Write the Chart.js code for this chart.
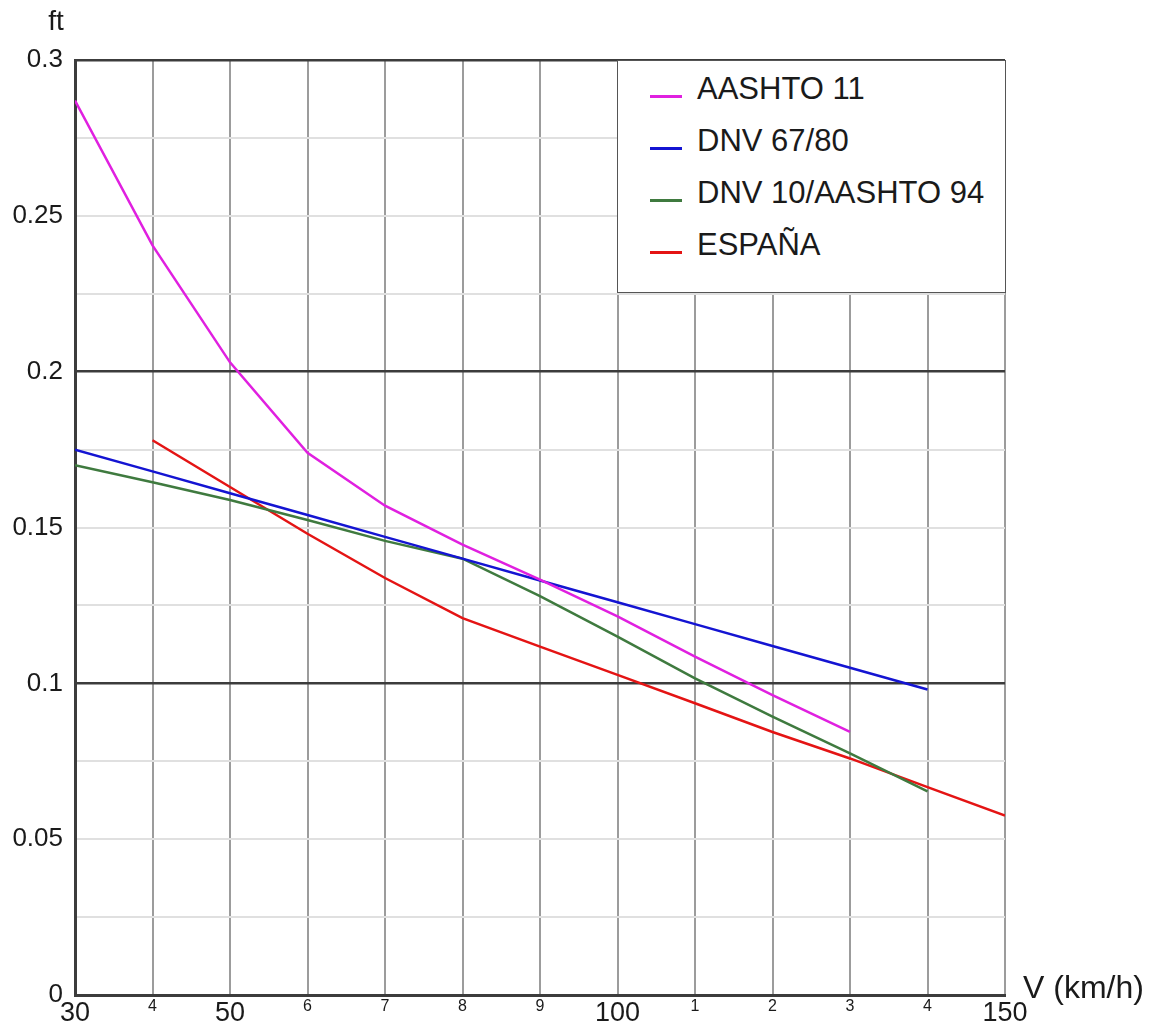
<!DOCTYPE html>
<html>
<head>
<meta charset="utf-8">
<script src="https://cdn.jsdelivr.net/npm/chart.js@4.4.1/dist/chart.umd.min.js"></script>
<style>
  body { margin: 0; background: #fff; }
  #wrap { position: relative; width: 1154px; height: 1027px; }
  #legend {
    position: absolute; left: 617px; top: 60px; width: 389px; height: 233px;
    box-sizing: border-box; background: #fff; border: 1.5px solid #555;
    font-family: "Liberation Sans", Arial, sans-serif; font-size: 31px; color: #1a1a1a;
  }
  .item { position: absolute; left: 32px; height: 36px; display: flex; align-items: center; white-space: nowrap; }
  .swatch { width: 32px; height: 3px; margin-right: 15px; margin-top: 14px; }
</style>
</head>
<body>
<div id="wrap">
  <canvas id="magChart" width="1154" height="1027"></canvas>
  <div id="legend"></div>
</div>
<script>
// speeds (km/h) and the friction coefficient ft for each standard
const speeds = [30, 40, 50, 60, 70, 80, 90, 100, 110, 120, 130, 140, 150];
const aashto11 = [0.287, 0.2405, 0.203, 0.174, 0.157, 0.1445, 0.1333, 0.1215, 0.1086, 0.0962, 0.0844, null, null];
const dnv6780  = [0.175, 0.168, 0.161, 0.154, 0.147, 0.140, 0.133, 0.126, 0.119, 0.112, 0.105, 0.098, null];
const dnv10    = [0.170, 0.1645, 0.1588, 0.1524, 0.1457, 0.140, 0.128, 0.115, 0.1016, 0.0893, 0.0775, 0.0653, null];
const espana   = [null, 0.178, 0.163, 0.148, 0.1338, 0.1209, 0.1118, 0.1027, 0.0936, 0.0844, 0.0759, 0.0667, 0.0576];

const seriesNames = ['AASHTO 11', 'DNV 67/80', 'DNV 10/AASHTO 94', 'ESPAÑA'];
const seriesColors = ['#e020e0', '#1414d2', '#3f7a3f', '#e41414'];

const xTickLabels = ['30', '4', '50', '6', '7', '8', '9', '100', '1', '2', '3', '4', '150'];
const yTickValues = [0, 0.05, 0.1, 0.15, 0.2, 0.25, 0.3];
const yTickLabels = ['0', '0.05', '0.1', '0.15', '0.2', '0.25', '0.3'];
const xTitle = 'V (km/h)';
const yTitle = 'ft';

const FONT = '"Liberation Sans", Arial, sans-serif';
const INK = '#1a1a1a';

function toPoints(vals) {
    return speeds.map((s, i) => ({ x: s, y: vals[i] })).filter(p => p.y !== null);
}

const allSeries = [aashto11, dnv6780, dnv10, espana];

// axis titles drawn next to the plot
const axisTitles = {
    id: 'axisTitles',
    afterDraw(chart) {
        const c = chart.ctx;
        const a = chart.chartArea;
        c.save();
        c.fillStyle = INK;
        c.textBaseline = 'middle';
        c.textAlign = 'center';
        c.font = '28px ' + FONT;
        c.fillText(yTitle, 56, 22);
        c.textAlign = 'left';
        c.font = '32px ' + FONT;
        c.fillText(xTitle, a.right + 18, a.bottom - 6);
        c.restore();
    }
};

const ctx = document.getElementById('magChart').getContext('2d');
const chart = new Chart(ctx, {
    type: 'line',
    data: {
        datasets: allSeries.map((vals, i) => ({
            label: seriesNames[i],
            data: toPoints(vals),
            borderColor: seriesColors[i],
            borderWidth: 2.5,
            pointRadius: 0,
            tension: 0,
            fill: false
        }))
    },
    options: {
        responsive: false,
        devicePixelRatio: 1,
        animation: false,
        layout: { padding: { top: 60, right: 149, left: 0, bottom: 0 } },
        plugins: { legend: { display: false }, tooltip: { enabled: false } },
        scales: {
            x: {
                type: 'linear',
                min: 30,
                max: 150,
                afterFit: s => { s.height = 32; },
                ticks: {
                    stepSize: 10,
                    padding: 2,
                    color: INK,
                    maxRotation: 0,
                    autoSkip: false,
                    callback: v => xTickLabels[speeds.indexOf(v)],
                    font: c => {
                        const big = c.tick && [30, 50, 100, 150].includes(c.tick.value);
                        return { family: FONT, size: big ? 27 : 16 };
                    }
                },
                grid: { color: '#9c9c9c', lineWidth: 2, drawTicks: false },
                border: { color: '#3c3c3c', width: 3 }
            },
            y: {
                min: 0,
                max: 0.3,
                afterFit: s => { s.width = 75; },
                ticks: {
                    stepSize: 0.025,
                    padding: 12,
                    color: INK,
                    font: { family: FONT, size: 26 },
                    callback: v => {
                        const i = yTickValues.findIndex(t => Math.abs(t - v) < 1e-6);
                        return i >= 0 ? yTickLabels[i] : '';
                    }
                },
                grid: {
                    drawTicks: false,
                    color: c => {
                        const m = Math.round(c.tick.value * 1000);
                        return m % 100 === 0 ? '#3c3c3c' : '#e0e0e0';
                    },
                    lineWidth: c => {
                        const m = Math.round(c.tick.value * 1000);
                        return m % 100 === 0 ? 2.5 : 2;
                    }
                },
                border: { color: '#3c3c3c', width: 3 }
            }
        }
    },
    plugins: [axisTitles]
});

// legend box in the upper right corner of the plot
const legendRows = [10, 62, 114, 166];
const legendBox = document.getElementById('legend');
chart.data.datasets.forEach((d, i) => {
    const item = document.createElement('div');
    item.className = 'item';
    item.style.top = legendRows[i] + 'px';
    const sw = document.createElement('span');
    sw.className = 'swatch';
    sw.style.background = d.borderColor;
    const txt = document.createElement('span');
    txt.textContent = d.label;
    item.appendChild(sw);
    item.appendChild(txt);
    legendBox.appendChild(item);
});
</script>
</body>
</html>
